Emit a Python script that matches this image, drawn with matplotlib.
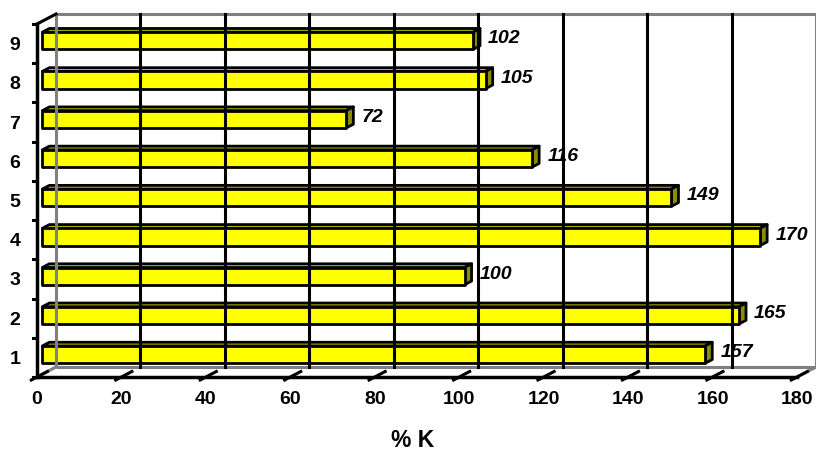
import matplotlib
matplotlib.use('Agg')
import matplotlib.pyplot as plt
from matplotlib.patches import Polygon

categories = ['1', '2', '3', '4', '5', '6', '7', '8', '9']
values = [157, 165, 100, 170, 149, 116, 72, 105, 102]
x_ticks = [0, 20, 40, 60, 80, 100, 120, 140, 160, 180]
x_label = '% K'

plt.rcParams['font.family'] = ['Liberation Sans', 'DejaVu Sans']

fig = plt.figure(figsize=(8.16, 4.54), dpi=100)
ax = fig.add_axes([37/816, 1-377/454, 760/816, 353/454])
ax.set_xlim(0, 180)
ax.set_ylim(0, len(categories))
ax.axis('off')

# depth of the 3d box in data units
DX = 4.5
DY = 0.255

def p(x, y, d):
    return (x + d*DX, y + d*DY)

ymax = len(categories)
xmax = x_ticks[-1]

# back wall edges and floor (gray)
gray = '#808080'
for pts in [
    [p(0, 0, 1), p(0, ymax, 1), p(xmax, ymax, 1), p(xmax, 0, 1), p(0, 0, 1)],
    [p(0, 0, 0), p(0, 0, 1)],
    [p(xmax, 0, 0), p(xmax, 0, 1)],
]:
    xs, ys = zip(*pts)
    ax.plot(xs, ys, color=gray, lw=2.2, clip_on=False, solid_capstyle='butt')

# gridlines on back wall
for t in x_ticks[1:-1]:
    xs, ys = zip(p(t, 0, 1), p(t, ymax, 1))
    ax.plot(xs, ys, color='black', lw=2.2, clip_on=False)

# front axes
ax.plot([0, 0], [0, ymax], color='black', lw=2.5, clip_on=False)
ax.plot([0, xmax], [0, 0], color='black', lw=2.5, clip_on=False)
xs, ys = zip(p(0, ymax, 0), p(0, ymax, 1))
ax.plot(xs, ys, color='black', lw=2.2, clip_on=False)

# x ticks (diagonal, in depth direction) and labels
for t in x_ticks:
    xs, ys = zip(p(t, 0, -0.3), p(t, 0, 0.55))
    ax.plot(xs, ys, color='black', lw=2.2, clip_on=False)
    ax.text(t, -0.58, str(t), ha='center', va='center', fontsize=14,
            fontweight='bold', clip_on=False)

# y ticks and labels
for i in range(ymax + 1):
    ax.plot([-1.0, 0], [i, i], color='black', lw=2.2, clip_on=False)
for i, c in enumerate(categories):
    ax.text(-5.2, i + 0.45, c, ha='center', va='center', fontsize=14,
            fontweight='bold', clip_on=False)

ax.text(89, -1.62, x_label, ha='center', va='center', fontsize=16.5,
        fontweight='bold', clip_on=False)

# 3d bars
d0, d1 = 0.28, 0.65
h = 0.44
for i, v in enumerate(values):
    y0 = i + 0.5 - h/2
    y1 = i + 0.5 + h/2
    front = [p(0, y0, d0), p(v, y0, d0), p(v, y1, d0), p(0, y1, d0)]
    top = [p(0, y1, d0), p(v, y1, d0), p(v, y1, d1), p(0, y1, d1)]
    side = [p(v, y0, d0), p(v, y0, d1), p(v, y1, d1), p(v, y1, d0)]
    ax.add_patch(Polygon(top, closed=True, fc='#c8c800', ec='black', lw=2,
                         joinstyle='round', clip_on=False))
    ax.add_patch(Polygon(side, closed=True, fc='#8c8c00', ec='black', lw=2,
                         joinstyle='round', clip_on=False))
    ax.add_patch(Polygon(front, closed=True, fc='#ffff00', ec='black', lw=2,
                         joinstyle='round', clip_on=False))
    ax.text(v + d0*DX + 3.6, i + 0.5 + 0.12, str(v), ha='left', va='center',
            fontsize=14, fontweight='bold', fontstyle='italic', clip_on=False)

fig.savefig('out.png', dpi=100)
